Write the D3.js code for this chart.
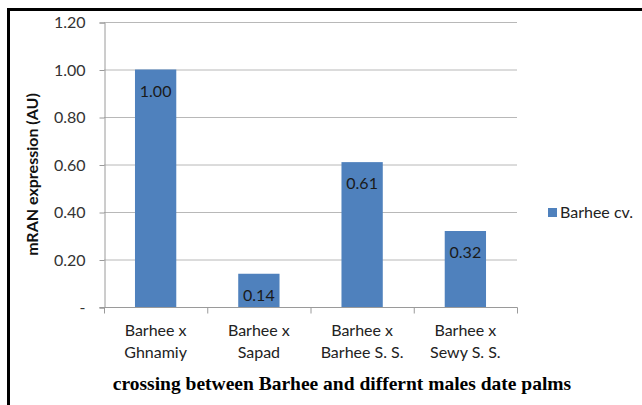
<!DOCTYPE html>
<html>
<head>
<meta charset="utf-8">
<script src="https://cdn.jsdelivr.net/npm/d3@7"></script>
<style>
  html, body { margin: 0; padding: 0; background: #fff; }
  svg { display: block; }
</style>
</head>
<body>
<svg id="chart" width="642" height="405"></svg>
<script>
// Relative mRNA expression for each Barhee cross
const categories = [
  ["Barhee x", "Ghnamiy"],
  ["Barhee x", "Sapad"],
  ["Barhee x", "Barhee S. S."],
  ["Barhee x", "Sewy S. S."]
];
const values = [1.00, 0.14, 0.61, 0.32];
const yTicks = [0, 0.2, 0.4, 0.6, 0.8, 1.0, 1.2];
const seriesName = "Barhee cv.";

const svg = d3.select("#chart");
const font = "Lato, 'Open Sans', sans-serif";
const barColor = "#4F81BD";

// Outer frame (top and left edges fall inside the canvas)
svg.append("rect")
  .attr("x", 8.5).attr("y", 9.5)
  .attr("width", 700).attr("height", 500)
  .attr("fill", "none").attr("stroke", "#000").attr("stroke-width", 3);

const plot = { left: 104, right: 517, top: 22, bottom: 307 };

const x = d3.scaleBand()
  .domain(d3.range(categories.length))
  .range([plot.left, plot.right])
  .paddingInner(0.6).paddingOuter(0.3);

const y = d3.scaleLinear().domain([0, 1.2]).range([plot.bottom, plot.top]);

// Horizontal gridlines
svg.append("g")
  .selectAll("line")
  .data(yTicks.filter(d => d > 0))
  .join("line")
  .attr("x1", plot.left).attr("x2", plot.right)
  .attr("y1", d => y(d) + 0.5).attr("y2", d => y(d) + 0.5)
  .attr("stroke", "#b8b8b8").attr("stroke-width", 1);

// Y axis
const yAxis = d3.axisLeft(y)
  .tickValues(yTicks)
  .tickSize(5)
  .tickPadding(14)
  .tickFormat(d => d === 0 ? "-" : d3.format(".2f")(d));
const gy = svg.append("g")
  .attr("transform", `translate(${plot.left + 0.5},0.5)`)
  .call(yAxis);
gy.select(".domain").attr("stroke", "#9a9a9a");
gy.selectAll(".tick line").attr("stroke", "#9a9a9a");
gy.selectAll(".tick text")
  .attr("font-family", font).attr("font-size", 16).attr("fill", "#333");

// Bars
svg.append("g")
  .selectAll("rect")
  .data(values)
  .join("rect")
  .attr("x", (d, i) => x(i))
  .attr("width", x.bandwidth())
  .attr("y", d => y(d))
  .attr("height", d => y(0) - y(d))
  .attr("fill", barColor);

// X axis with boundary ticks between categories
const xBound = d3.scaleLinear().domain([0, categories.length]).range([plot.left, plot.right]);
const gx = svg.append("g").attr("transform", `translate(0.5,${plot.bottom + 0.5})`);
gx.append("line")
  .attr("x1", plot.left - 5).attr("x2", plot.right)
  .attr("stroke", "#9a9a9a");
gx.selectAll("line.tk")
  .data(d3.range(categories.length + 1))
  .join("line").attr("class", "tk")
  .attr("x1", d => xBound(d)).attr("x2", d => xBound(d))
  .attr("y1", 0).attr("y2", 6)
  .attr("stroke", "#9a9a9a");

// Category labels (two lines)
const labels = svg.append("g");
categories.forEach((lines, i) => {
  const cx = x(i) + x.bandwidth() / 2;
  const t = labels.append("text")
    .attr("x", cx)
    .attr("y", 336)
    .attr("text-anchor", "middle")
    .attr("font-family", font).attr("font-size", 16).attr("fill", "#222");
  lines.forEach((s, j) => {
    t.append("tspan")
      .attr("x", cx)
      .attr("dy", j === 0 ? 0 : 22)
      .text(s);
  });
});

// Value labels inside bar tops
svg.append("g")
  .selectAll("text")
  .data(values)
  .join("text")
  .attr("x", (d, i) => x(i) + x.bandwidth() / 2)
  .attr("y", d => y(d) + 27)
  .attr("text-anchor", "middle")
  .attr("font-family", font).attr("font-size", 16).attr("fill", "#1a1a1a")
  .text(d => d3.format(".2f")(d));

// Y axis title
svg.append("text")
  .attr("transform", `translate(38,${(plot.top + plot.bottom) / 2 + 10}) rotate(-90)`)
  .attr("text-anchor", "middle")
  .attr("font-family", font).attr("font-size", 16).attr("font-weight", "bold")
  .attr("fill", "#111")
  .text("mRAN expression (AU)");

// X axis title
svg.append("text")
  .attr("x", 342).attr("y", 390)
  .attr("text-anchor", "middle")
  .attr("font-family", "'Liberation Serif', 'Times New Roman', serif")
  .attr("font-size", 19.5).attr("font-weight", "bold").attr("fill", "#000")
  .text("crossing between Barhee and differnt males date palms");

// Legend
const lg = svg.append("g").attr("transform", "translate(548,208)");
lg.append("rect").attr("width", 9).attr("height", 9).attr("fill", barColor);
lg.append("text")
  .attr("x", 12).attr("y", 10)
  .attr("font-family", font).attr("font-size", 16).attr("fill", "#222")
  .text(seriesName);
</script>
</body>
</html>
